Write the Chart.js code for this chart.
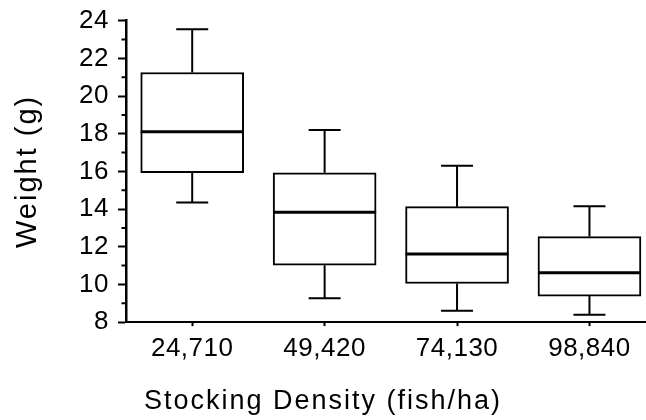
<!DOCTYPE html>
<html>
<head>
<meta charset="utf-8">
<script src="https://cdn.jsdelivr.net/npm/chart.js@4.4.1/dist/chart.umd.min.js"></script>
<style>
  html, body { margin: 0; padding: 0; background: #fff; overflow: hidden; }
  #c { display: block; }
</style>
</head>
<body>
<canvas id="c" width="646" height="420"></canvas>
<script>
const categories = ['24,710', '49,420', '74,130', '98,840'];
const whiskerMax = [23.55, 18.2, 16.3, 14.15];
const q3 = [21.25, 15.93, 14.13, 12.54];
const median = [18.1, 13.83, 11.62, 10.62];
const q1 = [15.93, 11.02, 10.05, 9.38];
const whiskerMin = [14.35, 9.27, 8.6, 8.39];
const yTicks = [8, 10, 12, 14, 16, 18, 20, 22, 24];
const yMinorTicks = [9, 11, 13, 15, 17, 19, 21, 23];

const FONT = '"Liberation Sans", Arial, Helvetica, sans-serif';
const BOX_W = 103;
const CAP_W = 32;
const TITLE_SPACING = '2px';
const LABEL_SPACING = '0.5px';

const spacingPlugin = {
  id: 'spacing',
  beforeLayout(chart) { chart.ctx.letterSpacing = TITLE_SPACING; },
  beforeDraw(chart) { chart.ctx.letterSpacing = TITLE_SPACING; }
};

// tick labels use a tighter letter spacing than the axis titles
function wrapLabels(scale) {
  if (scale._labelWrapped) return;
  scale._labelWrapped = true;
  const orig = scale.drawLabels.bind(scale);
  scale.drawLabels = function (area) {
    const ctx = scale.ctx;
    const prev = ctx.letterSpacing;
    ctx.letterSpacing = LABEL_SPACING;
    orig(area);
    ctx.letterSpacing = prev;
  };
}

const boxPlugin = {
  id: 'boxparts',
  afterDatasetsDraw(chart) {
    const ctx = chart.ctx;
    const xs = chart.scales.x, ys = chart.scales.y;
    ctx.save();
    ctx.strokeStyle = '#000';
    ctx.lineCap = 'butt';
    categories.forEach((c, i) => {
      const x = xs.getPixelForValue(i);
      const pMax = ys.getPixelForValue(whiskerMax[i]);
      const pQ3 = ys.getPixelForValue(q3[i]);
      const pQ1 = ys.getPixelForValue(q1[i]);
      const pMin = ys.getPixelForValue(whiskerMin[i]);
      const pMed = ys.getPixelForValue(median[i]);
      ctx.lineWidth = 2;
      ctx.beginPath();
      ctx.moveTo(x, pQ3); ctx.lineTo(x, pMax);
      ctx.moveTo(x - CAP_W / 2, pMax); ctx.lineTo(x + CAP_W / 2, pMax);
      ctx.moveTo(x, pQ1); ctx.lineTo(x, pMin);
      ctx.moveTo(x - CAP_W / 2, pMin); ctx.lineTo(x + CAP_W / 2, pMin);
      ctx.stroke();
      ctx.lineWidth = 3;
      ctx.beginPath();
      ctx.moveTo(x - BOX_W / 2, pMed); ctx.lineTo(x + BOX_W / 2, pMed);
      ctx.stroke();
    });
    // minor y ticks
    ctx.lineWidth = 2;
    ctx.beginPath();
    yMinorTicks.forEach(v => {
      const y = ys.getPixelForValue(v);
      ctx.moveTo(chart.chartArea.left - 4.5, y);
      ctx.lineTo(chart.chartArea.left, y);
    });
    ctx.stroke();
    ctx.restore();
  }
};

new Chart(document.getElementById('c'), {
  type: 'bar',
  data: {
    datasets: [{
      data: categories.map((c, i) => ({ x: i, y: [q1[i], q3[i]] })),
      backgroundColor: '#ffffff',
      borderColor: '#000000',
      borderWidth: 2,
      borderSkipped: false,
      barThickness: BOX_W
    }]
  },
  options: {
    responsive: false,
    animation: false,
    events: [],
    layout: { padding: { top: 20.7, right: 0, bottom: 0, left: 0 } },
    plugins: {
      legend: { display: false },
      tooltip: { enabled: false },
      title: {
        display: true,
        position: 'bottom',
        text: 'Stocking Density (fish/ha)',
        color: '#000',
        font: { family: FONT, size: 27, weight: 'normal', lineHeight: 1.2 },
        padding: { top: 0, bottom: 2 }
      }
    },
    scales: {
      x: {
        type: 'linear',
        min: -0.5,
        max: 3.427,
        offset: false,
        afterBuildTicks(scale) { scale.ticks = categories.map((c, i) => ({ value: i })); },
        afterFit(scale) { scale.height = 63.5; wrapLabels(scale); },
        grid: { display: true, offset: false, drawOnChartArea: false, drawTicks: true, tickLength: 4, tickWidth: 2, tickColor: '#000' },
        border: { display: true, color: '#000', width: 2 },
        ticks: {
          color: '#000',
          padding: 7,
          maxRotation: 0,
          autoSkip: false,
          font: { family: FONT, size: 26 },
          callback: (v) => categories[v]
        }
      },
      y: {
        type: 'linear',
        min: 8,
        max: 24,
        afterBuildTicks(scale) { scale.ticks = yTicks.map(v => ({ value: v })); },
        afterFit(scale) {
          scale.width = 126;
          scale.paddingTop = 0;
          scale.paddingBottom = 0;
          wrapLabels(scale);
        },
        grid: { display: true, drawOnChartArea: false, drawTicks: true, tickLength: 8, tickWidth: 2, tickColor: '#000' },
        border: { display: true, color: '#000', width: 2.5 },
        ticks: {
          color: '#000',
          padding: 9,
          font: { family: FONT, size: 26 }
        },
        title: {
          display: true,
          text: 'Weight (g)',
          color: '#000',
          font: { family: FONT, size: 29, lineHeight: 1.2 },
          padding: { top: 10.6, bottom: 0 }
        }
      }
    }
  },
  plugins: [spacingPlugin, boxPlugin]
});
</script>
</body>
</html>
